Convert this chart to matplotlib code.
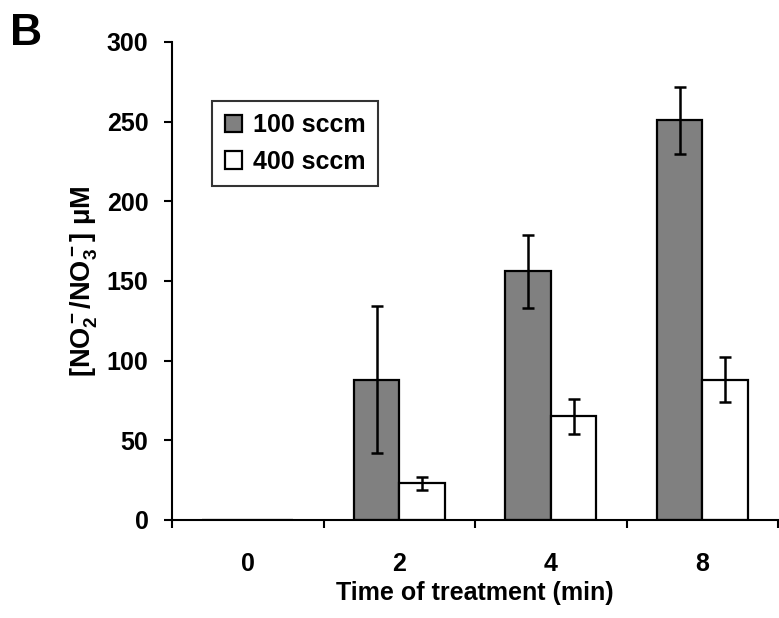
import matplotlib
matplotlib.use('Agg')
import matplotlib.pyplot as plt
import numpy as np

plt.rcParams['font.family'] = ['Liberation Sans', 'DejaVu Sans']
plt.rcParams['font.weight'] = 'bold'
plt.rcParams['mathtext.fontset'] = 'custom'
plt.rcParams['mathtext.rm'] = 'Liberation Sans:bold'
plt.rcParams['mathtext.it'] = 'Liberation Sans:bold'
plt.rcParams['mathtext.bf'] = 'Liberation Sans:bold'

categories = ['0', '2', '4', '8']
series = ['100 sccm', '400 sccm']
values_100 = [0, 88, 156, 251]
err_100 = [0, 46, 23, 21]
values_400 = [0, 23, 65, 88]
err_400 = [0, 4, 11, 14]
yticks = [0, 50, 100, 150, 200, 250, 300]

fig = plt.figure(figsize=(7.79, 6.18), dpi=100)
ax = fig.add_axes([0.2208, 0.1586, 0.7780, 0.7735])

x = np.arange(len(categories))
w = 0.30
ekw = dict(elinewidth=1.8, capthick=1.8, ecolor='black')
ax.bar(x - w / 2, values_100, w, color='#808080', edgecolor='black', linewidth=1.6,
       label=series[0], zorder=2)
ax.bar(x + w / 2, values_400, w, color='white', edgecolor='black', linewidth=1.6,
       label=series[1], zorder=2)
for xs, v, e in ((x - w / 2, values_100, err_100), (x + w / 2, values_400, err_400)):
    xe = [a for a, b in zip(xs, e) if b > 0]
    ve = [a for a, b in zip(v, e) if b > 0]
    ee = [b for b in e if b > 0]
    ax.errorbar(xe, ve, yerr=ee, fmt='none', capsize=4.5, zorder=3, **ekw)

ax.set_xlim(-0.5, 3.5)
ax.set_ylim(0, 300)
ax.set_yticks(yticks)
ax.set_xticks(np.arange(-0.5, 3.6, 1.0))
ax.set_xticklabels([])
ax.set_xticks(x, minor=True)
ax.set_xticklabels(categories, minor=True)
ax.tick_params(axis='x', which='minor', length=0, pad=23, labelsize=18)
ax.tick_params(axis='x', which='major', length=6, width=1.5, direction='out')
ax.tick_params(axis='y', length=6, width=1.5, direction='out', labelsize=18, pad=11)

for s in ('top', 'right'):
    ax.spines[s].set_visible(False)
for s in ('left', 'bottom'):
    ax.spines[s].set_linewidth(1.5)

ax.set_ylabel(r'[NO$_2^-$/NO$_3^-$] μM', fontsize=19.5, fontweight='bold', labelpad=5)
ax.set_xlabel('Time of treatment (min)', fontsize=18, fontweight='bold', labelpad=4)

leg = ax.legend(loc='upper left', bbox_to_anchor=(0.066, 0.877), borderaxespad=0,
                fancybox=False, edgecolor='black', prop={'size': 18, 'weight': 'bold'},
                handlelength=0.7, handleheight=0.7, handletextpad=0.45,
                borderpad=0.5, labelspacing=0.5)
leg.get_frame().set_linewidth(1.5)

fig.text(0.0128, 0.927, 'B', fontsize=32, fontweight='bold', va='baseline')

fig.savefig('out.png', dpi=100)
